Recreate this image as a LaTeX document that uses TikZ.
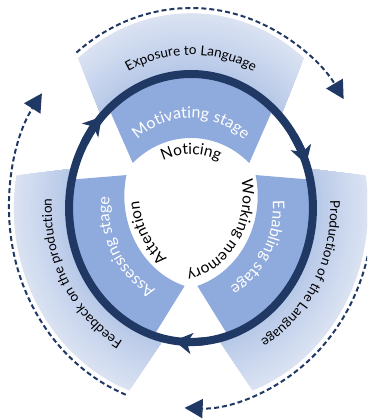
\documentclass[tikz,border=0pt]{standalone}
\usepackage{fontspec}
\setmainfont{Lato}
\usetikzlibrary{decorations.text,arrows.meta}

\definecolor{navy}{HTML}{203864}
\definecolor{midblue}{HTML}{8FAADC}
\definecolor{lbin}{HTML}{B4C6E7}
\definecolor{lbout}{HTML}{DCE4F3}

\newcommand\outerfont{\fontsize{13.5}{16}\selectfont}
\newcommand\stagefont{\fontsize{16}{19}\selectfont}
\newcommand\hubfont{\fontsize{15.5}{18}\selectfont}

% one segment of the cycle, drawn for the top position
\newcommand\lightbandpath{(137.7:131) -- (129.6:194.6)
  arc[start angle=129.6, end angle=50.4, radius=194.6] -- (42.3:131)
  arc[start angle=42.3, end angle=137.7, radius=131] -- cycle}
\newcommand\stagebandpath{(-64,45) -- (132:136)
  arc[start angle=132, end angle=48, radius=136] -- (64,45)
  arc[start angle=47.3, end angle=132.7, radius=94.4] -- cycle}

\tikzset{
  ring/.style={navy, line width=8pt},
  ringtip/.style={ring, -{Stealth[length=18pt, width=21pt, inset=5pt]}},
  cyclearrow/.style={navy, line width=2pt, dash pattern=on 5pt off 3pt,
    -{Triangle[length=18pt, width=19pt]}},
  curvetext/.style 2 args={decorate, decoration={text along path,
    text={#1}, text align=center, text color=#2}}
}

\begin{document}
\begin{tikzpicture}[x=1pt, y=1pt]
\useasboundingbox (0,0) rectangle (367,420);
\clip (0,0) rectangle (367,420);

\begin{scope}[shift={(191,212)}]
  \begin{scope}[xscale=0.91]
    % the three segments: outer band fading outwards, stage band on top
    \foreach \a in {0,120,240}{
      \begin{scope}
        \clip[rotate=\a] \lightbandpath;
        \foreach \i in {0,...,32}{
          \pgfmathsetmacro\rr{197-2*\i}
          \pgfmathsetmacro\pp{100*\i/32}
          \fill[lbin!\pp!lbout] (0,0) circle[radius=\rr];
        }
      \end{scope}
      \fill[midblue, rotate=\a] \stagebandpath;
    }
    % inner cycle with its arrowheads
    \draw[ring] (0,0) circle[radius=134];
    \foreach \t in {137,19,-98}{
      \draw[ringtip] ({\t+14}:134) arc[start angle={\t+14}, end angle=\t, radius=134];
    }
    % outer dashed cycle
    \draw[cyclearrow] (129:200) arc[start angle=129, end angle=33, radius=200];
    \draw[cyclearrow] (9:200) arc[start angle=9, end angle=-92, radius=200];
    \draw[cyclearrow] (249:200) arc[start angle=249, end angle=145, radius=200];
  \end{scope}

  % labels of the outer bands
  \path[curvetext={|\outerfont|Exposure to Language}{black}]
    (160:139.23 and 153) arc[start angle=160, end angle=20, x radius=139.23, y radius=153];
  \path[curvetext={|\outerfont|Production of the Language}{black}]
    (40:139.23 and 153) arc[start angle=40, end angle=-100, x radius=139.23, y radius=153];
  \path[curvetext={|\outerfont|Feedback on the production}{black}]
    (280:139.23 and 153) arc[start angle=280, end angle=140, x radius=139.23, y radius=153];

  % labels of the stages
  \path[curvetext={|\stagefont|Motivating stage}{white}]
    (160:81.9 and 90) arc[start angle=160, end angle=20, x radius=81.9, y radius=90];
  \path[curvetext={|\stagefont|Enabling stage}{white}]
    (40:81.9 and 90) arc[start angle=40, end angle=-100, x radius=81.9, y radius=90];
  \path[curvetext={|\stagefont|Assessing stage}{white}]
    (280:81.9 and 90) arc[start angle=280, end angle=140, x radius=81.9, y radius=90];

  % labels in the hub
  \path[curvetext={|\hubfont|Noticing}{black}, shift={(0,-24.4)}]
    (160:70.98 and 78) arc[start angle=160, end angle=20, x radius=70.98, y radius=78];
  \path[curvetext={|\hubfont|Working memory}{black}, shift={(-19.2,12.2)}]
    (36:70.98 and 78) arc[start angle=36, end angle=-104, x radius=70.98, y radius=78];
  \path[curvetext={|\hubfont|Attention}{black}, shift={(19.2,12.2)}]
    (280:70.98 and 78) arc[start angle=280, end angle=140, x radius=70.98, y radius=78];
\end{scope}
\end{tikzpicture}
\end{document}
